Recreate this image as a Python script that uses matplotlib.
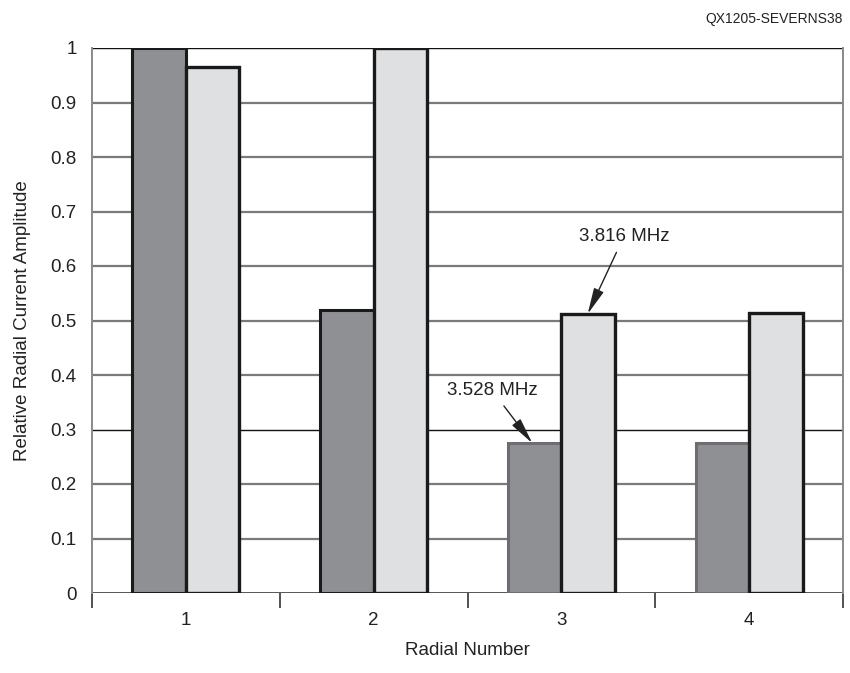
import matplotlib
matplotlib.use("Agg")
import matplotlib.pyplot as plt
import numpy as np

plt.rcParams['font.family'] = ['Liberation Sans', 'DejaVu Sans']

radials = ["1", "2", "3", "4"]
amp_3528 = [1.0, 0.52, 0.275, 0.275]
amp_3816 = [0.965, 1.0, 0.512, 0.514]
edge_3528 = ["#1a1a1a", "#1a1a1a", "#6e6e70", "#6e6e70"]
yticks = [0, 0.1, 0.2, 0.3, 0.4, 0.5, 0.6, 0.7, 0.8, 0.9, 1.0]
ytick_labels = ["0", "0.1", "0.2", "0.3", "0.4", "0.5", "0.6", "0.7", "0.8", "0.9", "1"]

fig = plt.figure(figsize=(8.5, 6.73), dpi=100)
ax = fig.add_axes([92/850, 80/673, 751/850, 545/673])

x = np.arange(1, len(radials) + 1)
w = 0.285

# horizontal grid
for v in yticks[1:]:
    if v in (0.3, 1.0):
        ax.axhline(v, color="#111111", lw=1.0, zorder=0)
    else:
        ax.axhline(v, color="#7a7a7a", lw=1.6, zorder=0)
ax.axhline(0, color="#555555", lw=1.4, zorder=0)

ax.bar(x - w/2, amp_3528, width=w, color="#8f9094", edgecolor=edge_3528,
       linewidth=2.2, zorder=2)
ax.bar(x + w/2, amp_3816, width=w, color="#dfe0e2", edgecolor="#1a1a1a",
       linewidth=2.4, zorder=3)

ax.set_xlim(0.5, 4.5)
ax.set_ylim(0, 1.0)
ax.set_yticks(yticks)
ax.set_yticklabels(ytick_labels)
ax.tick_params(axis="y", length=0, pad=11, labelsize=13.5, colors="#222222")

ax.set_xticks(x)
ax.set_xticklabels(radials)
ax.set_xticks(np.arange(0.5, 4.6, 1.0), minor=True)
ax.tick_params(axis="x", which="major", length=0, pad=14, labelsize=13.5, colors="#222222")
ax.tick_params(axis="x", which="minor", length=11, width=1.2, color="#333333", direction="out")

for s in ("top", "bottom"):
    ax.spines[s].set_visible(False)
for s in ("left", "right"):
    ax.spines[s].set_color("#8a8a8a")
    ax.spines[s].set_linewidth(1.4)

ax.set_xlabel("Radial Number", fontsize=13.5, color="#222222", labelpad=9)
ax.set_ylabel("Relative Radial Current Amplitude", fontsize=13.5, color="#222222", labelpad=14)

arrow = dict(arrowstyle="-|>,head_length=1.0,head_width=0.2", color="#222222",
             lw=1.0, mutation_scale=16, shrinkA=4, shrinkB=0)
ax.annotate("3.816 MHz", xy=(3.14, amp_3816[2]), xytext=(3.334, 0.655),
            fontsize=13.5, color="#222222", ha="center", va="center",
            arrowprops=arrow, zorder=5)
ax.annotate("3.528 MHz", xy=(2.845, amp_3528[2]), xytext=(2.63, 0.372),
            fontsize=13.5, color="#222222", ha="center", va="center",
            arrowprops=arrow, zorder=5)

fig.text(843/850, 1 - 19/673, "QX1205-SEVERNS38", ha="right", va="center",
         fontsize=10, color="#222222")

fig.savefig("out.png", dpi=100, facecolor="white")
